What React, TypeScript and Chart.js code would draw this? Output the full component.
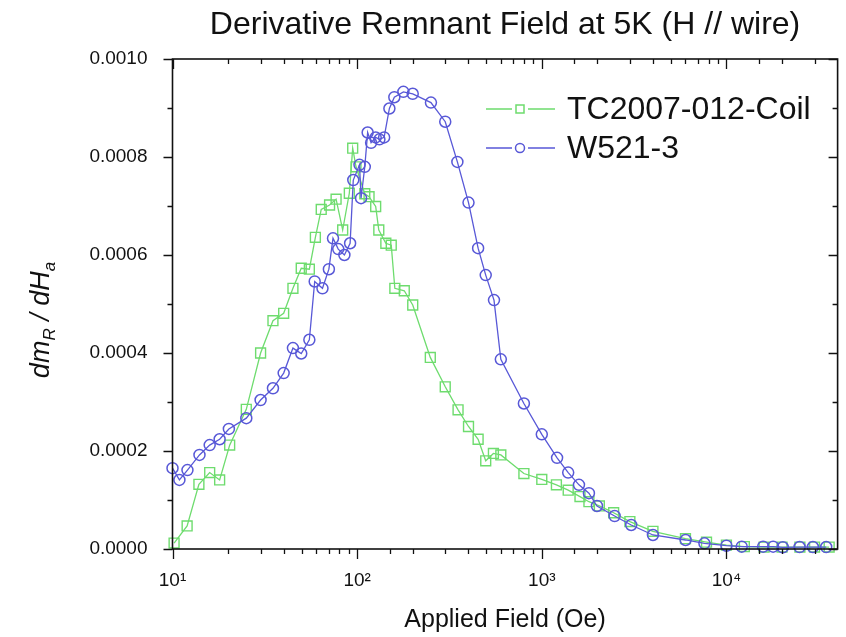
import React, { useEffect, useRef } from 'react';
import { Chart, registerables } from 'chart.js';

Chart.register(...registerables);

const chartTitle = 'Derivative Remnant Field at 5K (H // wire)';
const xAxisTitle = 'Applied Field (Oe)';
const seriesNames = ['TC2007-012-Coil', 'W521-3'];
const seriesColors = ['rgb(110, 220, 110)', 'rgb(88, 88, 215)'];
const xRange = [10, 40000];
const yRange = [0, 0.001];
const yStep = 0.0001;
const xMajorTickValues = [10, 100, 1000, 10000];
const xMajorTickLabels = ['10¹', '10²', '10³', '10⁴'];

const greenField = [10.2, 12.0, 13.9, 15.9, 18.0, 20.4, 25.1, 30.0, 35.0, 40.0, 44.9, 49.8, 55.1, 59.4, 63.9, 70.9, 76.9, 83.5, 90.7, 94.6, 98.6, 110, 116, 126, 131, 143, 153, 160, 180, 200, 249, 300, 352, 401, 452, 497, 547, 600, 800, 1000, 1200, 1390, 1610, 1800, 2050, 2450, 3000, 4000, 6000, 7800, 10000, 12500, 16000, 20000, 25000, 30000, 36000];
const greenValue = [0.000012, 0.000047, 0.000132, 0.000156, 0.000141, 0.000212, 0.000285, 0.0004, 0.000466, 0.000481, 0.000532, 0.000573, 0.000571, 0.000636, 0.000693, 0.000702, 0.000714, 0.000651, 0.000726, 0.000818, 0.00078, 0.000725, 0.000719, 0.000699, 0.000651, 0.000624, 0.00062, 0.000532, 0.000527, 0.000498, 0.000391, 0.000331, 0.000284, 0.00025, 0.000224, 0.00018, 0.000195, 0.000192, 0.000154, 0.000142, 0.000131, 0.00012, 0.000107, 0.0000965, 0.000088, 0.000074, 0.000056, 0.000036, 0.000021, 0.000014, 0.000008, 0.000005, 0.000004, 0.000004, 0.000004, 0.000004, 0.000004];

const blueField = [10.0, 10.9, 12.05, 14.0, 15.9, 18.0, 20.2, 25.1, 30.0, 35.0, 40.0, 44.9, 49.8, 55.1, 58.9, 64.9, 70.3, 74.0, 79.0, 85.3, 91.6, 95.3, 103, 105, 110, 114, 119, 126, 132, 140, 149.5, 159, 178, 200, 251, 300, 349, 401, 452, 497, 551, 600, 800, 1000, 1210, 1390, 1590, 1800, 1990, 2480, 3050, 4000, 6010, 7600, 10000, 12100, 15800, 17900, 20200, 24900, 29400, 34700];
const blueValue = [0.000165, 0.000141, 0.000161, 0.000192, 0.000212, 0.000224, 0.000245, 0.000267, 0.000304, 0.000328, 0.000359, 0.00041, 0.000399, 0.000427, 0.000546, 0.000532, 0.000571, 0.000634, 0.000612, 0.0006, 0.000624, 0.000753, 0.000784, 0.000716, 0.00078, 0.00085, 0.000829, 0.00084, 0.000836, 0.00084, 0.000899, 0.000922, 0.000933, 0.000929, 0.000911, 0.000872, 0.00079, 0.000707, 0.000614, 0.000559, 0.000508, 0.000387, 0.000297, 0.000234, 0.000186, 0.000156, 0.000131, 0.000114, 0.0000878, 0.0000673, 0.000049, 0.0000286, 0.0000184, 0.0000116, 0.0000067, 0.0000047, 0.0000047, 0.0000047, 0.0000035, 0.000004, 0.000004, 0.000004];

const FONT = "'Liberation Sans', Arial, Helvetica, sans-serif";

const isMajorX = (v: number) => {
  const l = Math.log10(v);
  return Math.abs(l - Math.round(l)) < 1e-9;
};

const framePlugin = {
  id: 'frameTicks',
  afterDraw(chart: any) {
    const { ctx, chartArea: a, scales } = chart;
    const xs = scales.x;
    const ys = scales.y;
    ctx.save();
    ctx.strokeStyle = '#111';
    ctx.lineWidth = 1.6;
    ctx.strokeRect(a.left, a.top, a.right - a.left, a.bottom - a.top);
    ctx.lineWidth = 1.3;
    ctx.beginPath();
    xs.ticks.forEach((t: any) => {
      if (t.value >= xRange[1]) return;
      const px = Math.round(xs.getPixelForValue(t.value)) + 0.5;
      const len = isMajorX(t.value) ? 10 : 5;
      ctx.moveTo(px, a.bottom);
      ctx.lineTo(px, a.bottom + len);
      ctx.moveTo(px, a.top);
      ctx.lineTo(px, a.top + len);
    });
    ys.ticks.forEach((t: any, i: number) => {
      const py = Math.round(ys.getPixelForValue(t.value)) + 0.5;
      const len = i % 2 === 0 ? 9 : 5;
      ctx.moveTo(a.left - len, py);
      ctx.lineTo(a.left, py);
      ctx.moveTo(a.right - len, py);
      ctx.lineTo(a.right, py);
    });
    ctx.stroke();

    // y axis title with subscripts
    const main = `italic 27px ${FONT}`;
    const sub = `italic 17px ${FONT}`;
    const parts = [
      { t: 'dm', s: false },
      { t: 'R', s: true },
      { t: ' / dH', s: false },
      { t: 'a', s: true },
    ];
    let total = 0;
    parts.forEach((p) => {
      ctx.font = p.s ? sub : main;
      total += ctx.measureText(p.t).width;
    });
    ctx.translate(49, 320);
    ctx.rotate(-Math.PI / 2);
    ctx.fillStyle = '#111';
    ctx.textBaseline = 'alphabetic';
    ctx.textAlign = 'left';
    let cx = -total / 2;
    parts.forEach((p) => {
      ctx.font = p.s ? sub : main;
      ctx.fillText(p.t, cx, p.s ? 6 : 0);
      cx += ctx.measureText(p.t).width;
    });
    ctx.restore();

    // legend
    ctx.save();
    chart.data.datasets.forEach((ds: any, i: number) => {
      const yy = 109 + i * 39;
      ctx.strokeStyle = ds.borderColor;
      ctx.lineWidth = 1.3;
      ctx.beginPath();
      ctx.moveTo(486, yy);
      ctx.lineTo(512, yy);
      ctx.moveTo(528, yy);
      ctx.lineTo(555, yy);
      ctx.stroke();
      ctx.lineWidth = 1.5;
      ctx.beginPath();
      if (ds.pointStyle === 'rect') {
        ctx.rect(516, yy - 4, 8, 8);
      } else {
        ctx.arc(520, yy, 4.5, 0, Math.PI * 2);
      }
      ctx.stroke();
      ctx.fillStyle = '#111';
      ctx.font = `32px ${FONT}`;
      ctx.textBaseline = 'middle';
      ctx.textAlign = 'left';
      ctx.fillText(ds.label, 567, yy + 1);
    });
    ctx.restore();
  },
};

export default function App() {
  const ref = useRef<HTMLCanvasElement | null>(null);
  useEffect(() => {
    if (!ref.current) return;
    const toPts = (xsArr: number[], ysArr: number[]) => xsArr.map((x, i) => ({ x, y: ysArr[i] }));
    const chart = new Chart(ref.current, {
      type: 'line',
      data: {
        datasets: [
          {
            label: seriesNames[0],
            data: toPts(greenField, greenValue),
            borderColor: seriesColors[0],
            backgroundColor: 'rgba(0,0,0,0)',
            pointStyle: 'rect',
            pointRadius: 7,
            pointBorderWidth: 1.4,
            pointBorderColor: seriesColors[0],
            pointBackgroundColor: 'rgba(0,0,0,0)',
            borderWidth: 1.3,
            tension: 0,
            order: 1,
            clip: false,
          },
          {
            label: seriesNames[1],
            data: toPts(blueField, blueValue),
            borderColor: seriesColors[1],
            backgroundColor: 'rgba(0,0,0,0)',
            pointStyle: 'circle',
            pointRadius: 5.5,
            pointBorderWidth: 1.5,
            pointBorderColor: seriesColors[1],
            pointBackgroundColor: 'rgba(0,0,0,0)',
            borderWidth: 1.3,
            tension: 0,
            order: 0,
            clip: false,
          },
        ] as any,
      },
      options: {
        animation: false,
        responsive: false,
        devicePixelRatio: 1,
        layout: { padding: { top: 0, right: 8, bottom: 0, left: 0 } },
        plugins: {
          legend: { display: false },
          tooltip: { enabled: false },
          title: {
            display: true,
            text: chartTitle,
            fullSize: false,
            color: '#111',
            font: { family: FONT, size: 32, weight: 'normal' },
            padding: { top: 6, bottom: 14.6 },
          },
        },
        scales: {
          x: {
            type: 'logarithmic',
            min: xRange[0],
            max: xRange[1],
            grid: { display: false, drawTicks: false },
            border: { display: false },
            afterFit: (s: any) => {
              s.height = 88;
              s.paddingRight = 0;
              s.paddingLeft = 0;
            },
            ticks: {
              autoSkip: false,
              maxRotation: 0,
              padding: 20,
              color: '#111',
              font: { family: FONT, size: 19 },
              callback: (v: any) => {
                const idx = xMajorTickValues.findIndex((m) => Math.abs(m - Number(v)) < 1e-6 * m);
                return idx >= 0 ? xMajorTickLabels[idx] : '';
              },
            },
            title: {
              display: true,
              text: xAxisTitle,
              color: '#111',
              font: { family: FONT, size: 25 },
              padding: { top: 0, bottom: 2 },
            },
          },
          y: {
            type: 'linear',
            min: yRange[0],
            max: yRange[1],
            grid: { display: false, drawTicks: false },
            border: { display: false },
            afterFit: (s: any) => {
              s.width = 172.5;
              s.paddingTop = 0;
              s.paddingBottom = 0;
            },
            ticks: {
              stepSize: yStep,
              autoSkip: false,
              padding: 25,
              color: '#111',
              font: { family: FONT, size: 19 },
              callback: (v: any, i: number) => (i % 2 === 0 ? Number(v).toFixed(4) : ''),
            },
          },
        },
      } as any,
      plugins: [framePlugin],
    });
    return () => chart.destroy();
  }, []);
  return (
    <div style={{ position: 'fixed', left: 0, top: 0, width: 846, height: 637, background: '#fff' }}>
      <canvas ref={ref} width={846} height={637} />
    </div>
  );
}
